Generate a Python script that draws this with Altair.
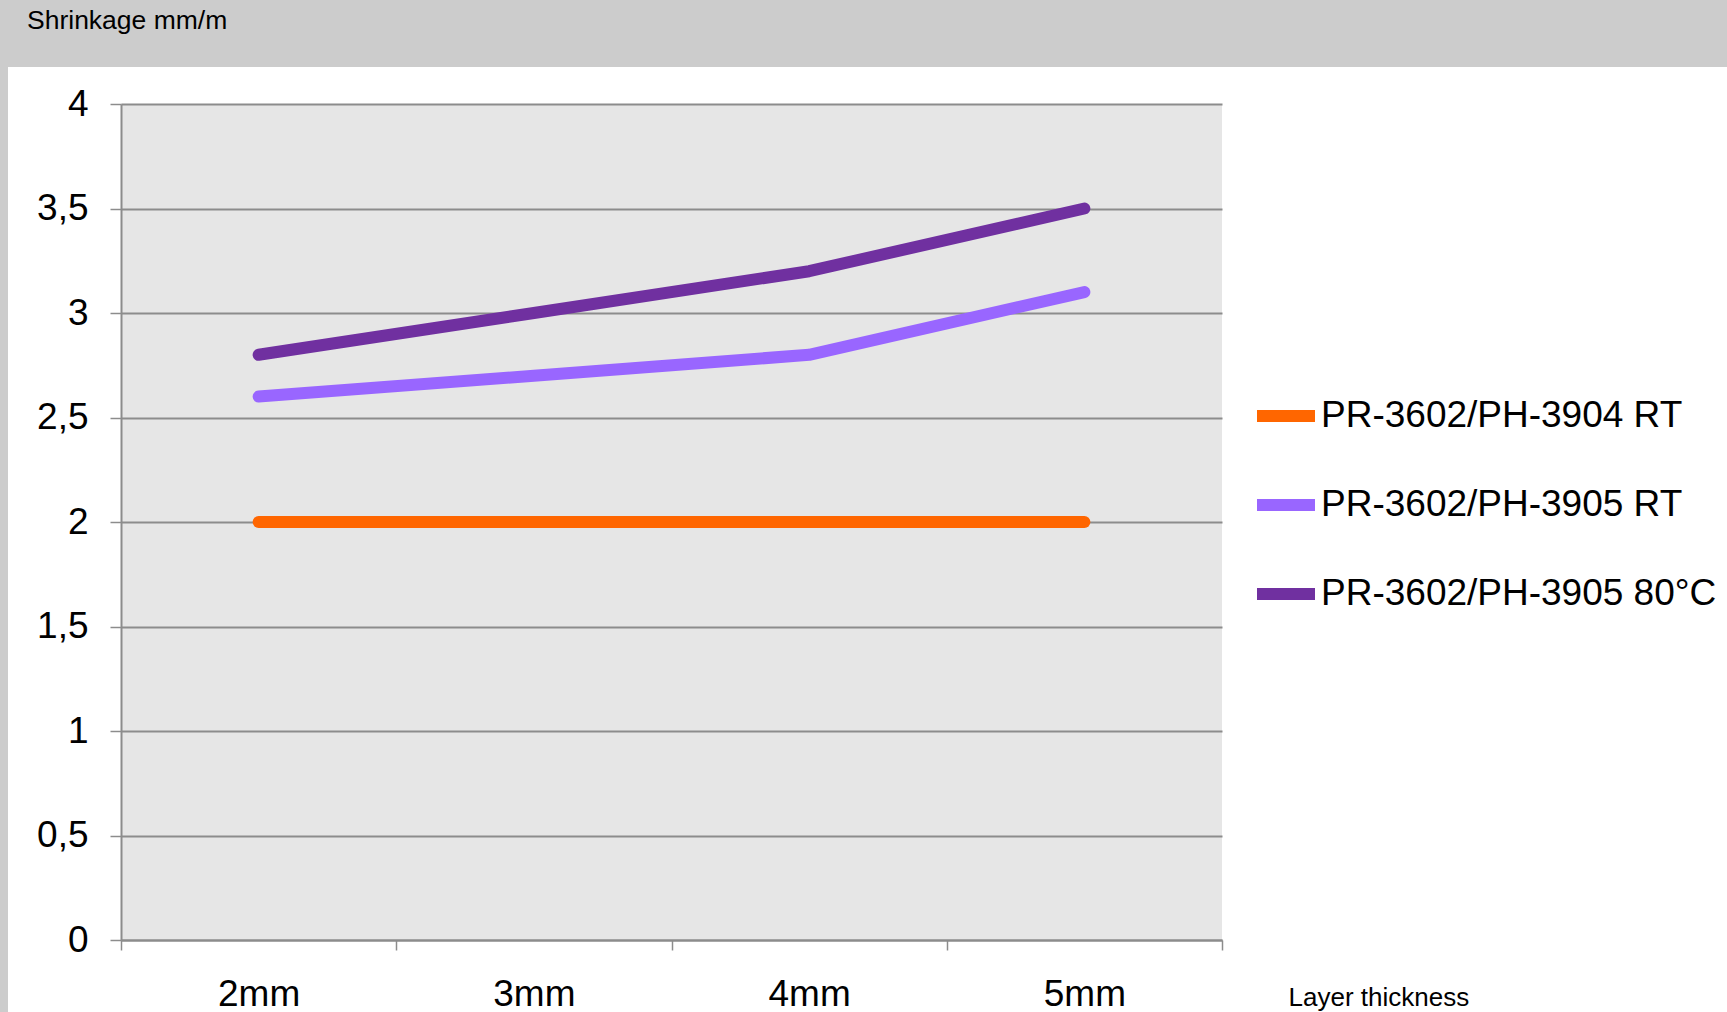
import altair as alt
import pandas as pd

# Layer thickness categories and shrinkage values (mm/m) per system
thickness = ["2mm", "3mm", "4mm", "5mm"]
series_names = ["PR-3602/PH-3904 RT", "PR-3602/PH-3905 RT", "PR-3602/PH-3905 80°C"]
series_colors = ["#ff6600", "#9966ff", "#7030a0"]
rt_3904 = [2.0, 2.0, 2.0, 2.0]
rt_3905 = [2.6, 2.7, 2.8, 3.1]
hot_3905 = [2.8, 3.0, 3.2, 3.5]

rows = []
for name, vals in zip(series_names, [rt_3904, rt_3905, hot_3905]):
    for t, v in zip(thickness, vals):
        rows.append({"series": name, "thickness": t, "shrinkage": v})
df = pd.DataFrame(rows)

W, H = 1101, 836
PAD_L, PAD_T = 121, 104
FONT = "Liberation Sans"

lines = alt.Chart(df).mark_line(strokeWidth=12, strokeCap="round", strokeJoin="round").encode(
    x=alt.X(
        "thickness:N",
        sort=thickness,
        scale=alt.Scale(paddingInner=0, paddingOuter=0),
        axis=alt.Axis(
            title="Layer thickness",
            titleFontSize=26, titleFontWeight="normal", titleColor="#000000",
            titleX=1167, titleY=57, titleAlign="left", titleAnchor="start",
            titleBaseline="middle", titleAngle=0,
            labelFontSize=37, labelColor="#000000", labelPadding=26,
            labelAngle=0, tickBand="extent", ticks=True, tickSize=10,
            tickColor="#8c8c8c", tickWidth=1.5, domainColor="#8c8c8c", domainWidth=2,
            grid=False,
        ),
    ),
    y=alt.Y(
        "shrinkage:Q",
        scale=alt.Scale(domain=[0, 4], nice=False, zero=True),
        axis=alt.Axis(
            title=None,
            values=[0, 0.5, 1, 1.5, 2, 2.5, 3, 3.5, 4],
            labelExpr="replace(format(datum.value, '~g'), '.', ',')",
            labelFontSize=37, labelColor="#000000", labelPadding=22,
            tickSize=11, tickColor="#8c8c8c", tickWidth=1.5,
            domainColor="#8c8c8c", domainWidth=2,
            grid=True, gridColor="#8c8c8c", gridWidth=2,
        ),
    ),
    color=alt.Color(
        "series:N",
        sort=series_names,
        scale=alt.Scale(domain=series_names, range=series_colors),
        legend=alt.Legend(
            title=None, orient="none", legendX=1130, legendY=277,
            symbolType="stroke", symbolSize=3364, symbolStrokeWidth=12,
            labelFontSize=37, labelColor="#000000", labelOffset=0,
            labelLimit=600, rowPadding=30, padding=0,
        ),
    ),
    detail="series:N",
)

# Grey header band and left strip around the white panel
frame = pd.DataFrame({"k": [0]})
header = alt.Chart(frame).mark_rect(color="#cccccc").encode(
    x=alt.value(-PAD_L), x2=alt.value(1727 - PAD_L),
    y=alt.value(-PAD_T), y2=alt.value(67 - PAD_T),
)
strip = alt.Chart(frame).mark_rect(color="#cccccc").encode(
    x=alt.value(-PAD_L), x2=alt.value(8 - PAD_L),
    y=alt.value(-PAD_T), y2=alt.value(1012 - PAD_T),
)
# Unit label of the value axis, set in the header band
unit_label = alt.Chart(pd.DataFrame({"label": ["Shrinkage mm/m"]})).mark_text(
    font=FONT, fontSize=26.5, color="#000000", align="left", baseline="middle"
).encode(
    text="label:N", x=alt.value(27 - PAD_L), y=alt.value(21 - PAD_T),
)

chart = alt.layer(header, strip, unit_label, lines).properties(
    width=W, height=H,
    padding={"left": PAD_L, "top": PAD_T, "right": 1727 - PAD_L - W, "bottom": 1012 - PAD_T - H},
    autosize=alt.AutoSizeParams(type="none"),
).configure(
    background="#ffffff", font=FONT,
).configure_view(
    fill="#e6e6e6", stroke=None,
)

chart.save("out.html", embed_options={"renderer": "svg", "actions": False})
